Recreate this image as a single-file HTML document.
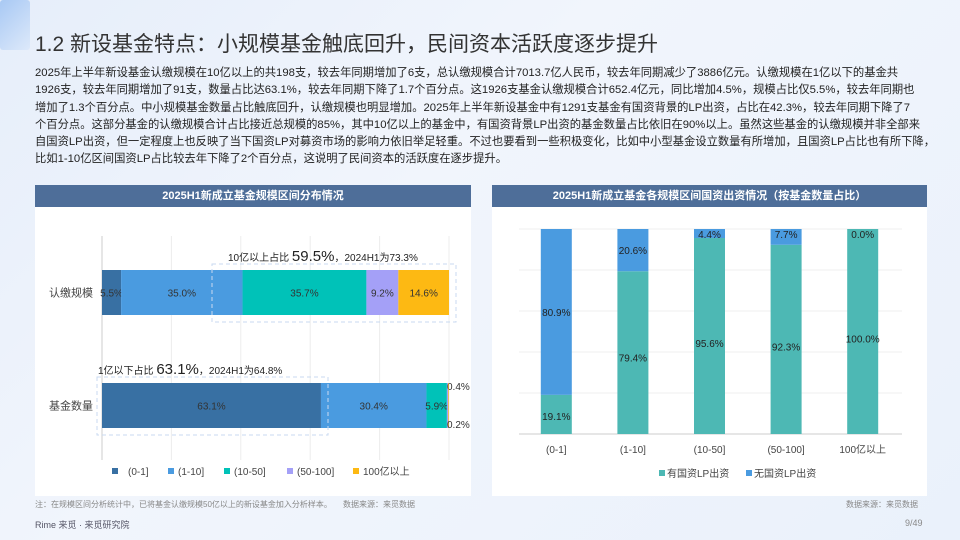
<!DOCTYPE html>
<html><head><meta charset="utf-8">
<style>
*{margin:0;padding:0;box-sizing:border-box}
body{width:960px;height:540px;overflow:hidden;background:linear-gradient(135deg,#e6eefa 0%,#f1f5fc 40%,#eaf1fb 100%);font-family:"Liberation Sans","Noto Sans CJK SC",sans-serif;position:relative;color:#333}
.title{position:absolute;left:35px;top:28px;font-size:21px;color:#333;white-space:nowrap}
.body{position:absolute;left:35px;top:65px;font-size:11.3px;line-height:17.3px;color:#222;white-space:nowrap}
.panel{position:absolute;background:#fff;top:185px;height:311px}
.phead{height:22px;background:#4e6e99;color:#fff;font-weight:bold;font-size:11px;text-align:center;line-height:22px}
.note{position:absolute;top:499px;font-size:8px;color:#888;white-space:nowrap}
svg text{font-family:"Liberation Sans","Noto Sans CJK SC",sans-serif}
</style></head><body>
<div style="position:absolute;left:0;top:0;width:30px;height:50px;background:linear-gradient(135deg,#7fb0f0,#d6e5fa);opacity:.6;border-radius:3px"></div>
<div class="title">1.2 新设基金特点：小规模基金触底回升，民间资本活跃度逐步提升</div>
<div class="body">2025年上半年新设基金认缴规模在10亿以上的共198支，较去年同期增加了6支，总认缴规模合计7013.7亿人民币，较去年同期减少了3886亿元。认缴规模在1亿以下的基金共<br>1926支，较去年同期增加了91支，数量占比达63.1%，较去年同期下降了1.7个百分点。这1926支基金认缴规模合计652.4亿元，同比增加4.5%，规模占比仅5.5%，较去年同期也<br>增加了1.3个百分点。中小规模基金数量占比触底回升，认缴规模也明显增加。2025年上半年新设基金中有1291支基金有国资背景的LP出资，占比在42.3%，较去年同期下降了7<br>个百分点。这部分基金的认缴规模合计占比接近总规模的85%，其中10亿以上的基金中，有国资背景LP出资的基金数量占比依旧在90%以上。虽然这些基金的认缴规模并非全部来<br>自国资LP出资，但一定程度上也反映了当下国资LP对募资市场的影响力依旧举足轻重。不过也要看到一些积极变化，比如中小型基金设立数量有所增加，且国资LP占比也有所下降，<br>比如1-10亿区间国资LP占比较去年下降了2个百分点，这说明了民间资本的活跃度在逐步提升。</div>

<div class="panel" style="left:35px;width:436px">
<div class="phead">2025H1新成立基金规模区间分布情况</div>
</div>
<div class="panel" style="left:492px;width:435px">
<div class="phead">2025H1新成立基金各规模区间国资出资情况（按基金数量占比）</div>
</div>

<svg id="chart" width="960" height="540" style="position:absolute;left:0;top:0"></svg>

<div class="note" style="left:35px">注：在规模区间分析统计中，已将基金认缴规模50亿以上的新设基金加入分析样本。&nbsp;&nbsp;&nbsp;&nbsp;&nbsp;数据来源：来觅数据</div>
<div class="note" style="left:846px">数据来源：来觅数据</div>
<div style="position:absolute;left:35px;top:518px;font-size:9px;color:#556">Rime 来觅 · 来觅研究院</div>
<div style="position:absolute;left:905px;top:518px;font-size:9px;color:#888">9/49</div>

<script>
const hCats=["认缴规模","基金数量"];
const hSeries=["(0-1]","(1-10]","(10-50]","(50-100]","100亿以上"];
const hRow1=[5.5,35.0,35.7,9.2,14.6];
const hRow2=[63.1,30.4,5.9,0.4,0.2];
const hColors=["#3870a3","#4a9be0","#00c2b8","#a4a0f7","#fdb913"];

const vCats=["(0-1]","(1-10]","(10-50]","(50-100]","100亿以上"];
const vState=[19.1,79.4,95.6,92.3,100.0];
const vNone=[80.9,20.6,4.4,7.7,0.0];
const vSeries=["有国资LP出资","无国资LP出资"];
const vColors=["#4db8b4","#4a9be0"];

const svg=document.getElementById('chart');
const NS="http://www.w3.org/2000/svg";
function mk(tag,attrs,txt){const e=document.createElementNS(NS,tag);for(const k in attrs)e.setAttribute(k,attrs[k]);if(txt!==undefined)e.textContent=txt;svg.appendChild(e);return e;}

// left horizontal chart
const hx0=102,hx1=449;
const hx=v=>hx0+(hx1-hx0)*v/100;
const rowY=[270,383],rowH=45;
for(let i=0;i<=5;i++){const g=mk('line',{x1:hx(i*20),x2:hx(i*20),y1:236,y2:460,stroke:i==0?'#ccc':'#ececec'});
}
const hRows=[hRow1,hRow2];
hRows.forEach((row,ri)=>{
  let acc=0;
  const t=mk('text',{x:93,y:rowY[ri]+rowH/2+4,'text-anchor':'end','font-size':11,fill:'#444'},hCats[ri]);
  
  row.forEach((v,si)=>{
    const r=mk('rect',{x:hx(acc),y:rowY[ri],width:Math.max(hx(acc+v)-hx(acc),0.6),height:rowH,fill:hColors[si]});
    
    const cx=(hx(acc)+hx(acc+v))/2;
    let ly=rowY[ri]+rowH/2+4, lx=cx, anc='middle';
    if(v<1){lx=hx(100)-2;anc='start';ly=si==3?rowY[ri]+7:rowY[ri]+rowH;}
    const lt=mk('text',{x:lx,y:ly,'text-anchor':anc,'font-size':10,fill:'#333'},v.toFixed(1)+'%');
    
    acc+=v;
  });
});
// annotations
const b1=mk('rect',{x:212,y:264,width:244,height:58,fill:'none',stroke:'#c9daf0','stroke-dasharray':'4,3'});

const b2=mk('rect',{x:97,y:377,width:231,height:58,fill:'none',stroke:'#c9daf0','stroke-dasharray':'4,3'});

const a1=mk('text',{x:228,y:261,'font-size':10,fill:'#222'});a1.innerHTML='10亿以上占比 <tspan font-size="15">'+(hRow1[2]+hRow1[3]+hRow1[4]).toFixed(1)+'%</tspan>，2024H1为73.3%';

const a2=mk('text',{x:98,y:374,'font-size':10,fill:'#222'});a2.innerHTML='1亿以下占比 <tspan font-size="15">'+hRow2[0].toFixed(1)+'%</tspan>，2024H1为64.8%';

// left legend
const lgx=[112,168,224,287,353];
hSeries.forEach((s,i)=>{
  const r=mk('rect',{x:lgx[i],y:468,width:6,height:6,fill:hColors[i]});
  
  const t=mk('text',{x:lgx[i]+(i==0?16:10),y:475,'font-size':10,fill:'#444'},s);
  
});

// right vertical chart
const vy0=434,vy1=229;
const vy=v=>vy0-(vy0-vy1)*v/100;
for(let i=0;i<=5;i++){const g=mk('line',{x1:519,x2:902,y1:vy(i*20),y2:vy(i*20),stroke:i==0?'#ccc':'#efefef'});
}
const bw=31,band=(902-519)/5;
vCats.forEach((c,i)=>{
  const cx=519+band*(i+0.5)-1;
  const r1=mk('rect',{x:cx-bw/2,y:vy(vState[i]),width:bw,height:vy0-vy(vState[i]),fill:vColors[0]});
  
  const r2=mk('rect',{x:cx-bw/2,y:vy(vState[i]+vNone[i]),width:bw,height:vy(vState[i])-vy(vState[i]+vNone[i]),fill:vColors[1]});
  
  const ys=vState[i]<30? vy0-14 : vy(vState[i]/2)+4+(vState[i]<90?5:7);
  const t1=mk('text',{x:cx,y:ys,'text-anchor':'middle','font-size':10,fill:'#222'},vState[i].toFixed(1)+'%');
  
  const yn=vNone[i]<12? vy(100)+9 : vy(vState[i]+vNone[i]/2)+4;
  const t2=mk('text',{x:cx,y:yn,'text-anchor':'middle','font-size':10,fill:'#222'},vNone[i].toFixed(1)+'%');
  
  const xl=mk('text',{x:cx,y:453,'text-anchor':'middle','font-size':10,fill:'#444'},c);
  
});
const rlx=[659,746];
vSeries.forEach((s,i)=>{
  const r=mk('rect',{x:rlx[i],y:470,width:6,height:6,fill:vColors[i]});
  
  const t=mk('text',{x:rlx[i]+8,y:477,'font-size':10,fill:'#444'},s);
  
});
</script>
</body></html>
